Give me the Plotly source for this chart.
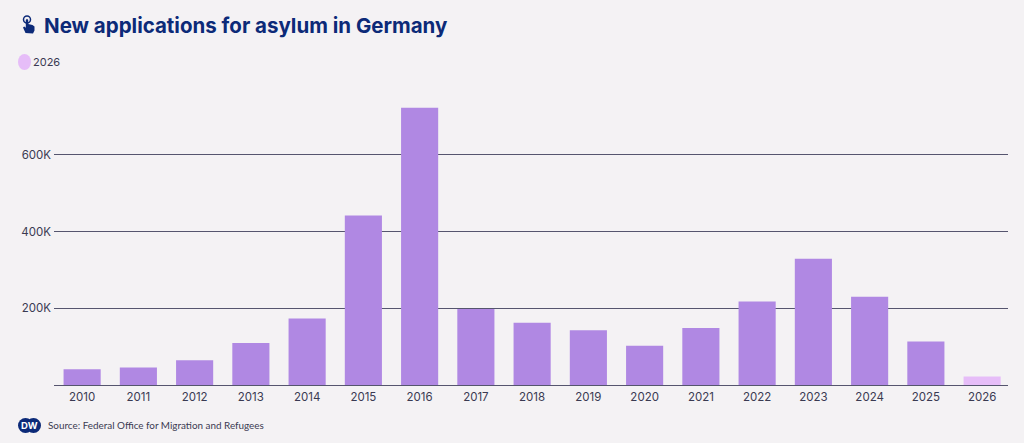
import plotly.graph_objects as go

years = ["2010", "2011", "2012", "2013", "2014", "2015", "2016", "2017", "2018",
         "2019", "2020", "2021", "2022", "2023", "2024", "2025", "2026"]
applications = [41332, 45741, 64539, 109580, 173072, 441899, 722370, 198317, 161931,
                142509, 102581, 148233, 217774, 329120, 229751, 113236, 22000]
current_year = "2026"
y_ticks = [200000, 400000, 600000]
y_tick_labels = ["200K", "400K", "600K"]

TITLE = "New applications for asylum in Germany"
SOURCE = "Source: Federal Office for Migration and Refugees"
BACKGROUND = "#f4f2f4"
NAVY = "#0c2a78"
INK = "#3a3a52"
RULE = "#55556e"
BAR = "#b088e3"
BAR_CURRENT = "#e6bdf8"
W, H = 1024, 443
LEFT, RIGHT, TOP, BOTTOM = 54, 1008, 78, 385

bar_colors = [BAR_CURRENT if y == current_year else BAR for y in years]

fig = go.Figure(go.Bar(x=years, y=applications, marker_color=bar_colors,
                       marker_line_width=0, hoverinfo="x+y"))


# Page pixels to paper fractions, which plotly measures from the plot area
def px(x):
    return (x - LEFT) / (RIGHT - LEFT)


def py(y):
    return (BOTTOM - y) / (BOTTOM - TOP)


def ellipse(x0, y0, x1, y1, color):
    return dict(type="circle", xref="paper", yref="paper", x0=px(x0), x1=px(x1),
                y0=py(y1), y1=py(y0), fillcolor=color, line_width=0, layer="above")


def text(x, y, s, size, color, family="Lato", bold=False):
    return dict(xref="paper", yref="paper", x=px(x), y=py(y), text=f"<b>{s}</b>" if bold else s,
                showarrow=False, xanchor="left", yanchor="middle",
                font=dict(family=family, size=size, color=color), align="left")


# Pointing-hand icon beside the title: raised finger and palm
hand_outline = [(25.5, 33), (23, 27.5), (24.2, 26.5), (25.8, 27.8), (25.8, 20), (27, 18.8),
                (28.2, 20), (28.2, 24), (32.5, 25), (34.5, 26.5), (34.5, 30.5), (33, 33.5)]
hand_path = "M " + " L ".join(f"{px(x):.5f} {py(y):.5f}" for x, y in hand_outline) + " Z"

fig.update_layout(
    width=W, height=H, autosize=False,
    paper_bgcolor=BACKGROUND, plot_bgcolor=BACKGROUND,
    margin=dict(l=LEFT, r=W - RIGHT, t=TOP, b=H - BOTTOM),
    bargap=0.34, showlegend=False,
    xaxis=dict(type="category", range=[-0.5, 16.46], tickmode="array", tickvals=years, ticktext=years,
               showgrid=False, zeroline=False, showline=True, linecolor=RULE, linewidth=1, ticks="",
               ticklabelstandoff=1,
               tickfont=dict(family="Inter", size=11.5, color=INK)),
    yaxis=dict(range=[0, 800000], tickmode="array", tickvals=y_ticks, ticktext=y_tick_labels,
               showgrid=True, gridcolor=RULE, gridwidth=1, zeroline=False, showline=False,
               ticks="", layer="below traces", ticklabelstandoff=2,
               tickfont=dict(family="Inter", size=11.5, color=INK)),
    shapes=[
        ellipse(18, 54, 31, 70, BAR_CURRENT),
        dict(type="path", xref="paper", yref="paper", path=hand_path, fillcolor=NAVY, line_width=0),
        dict(type="circle", xref="paper", yref="paper", x0=px(23.5), x1=px(30.5), y0=py(23), y1=py(16),
             fillcolor="rgba(0,0,0,0)", line=dict(color=NAVY, width=1.5)),
        ellipse(18, 418, 33, 433, NAVY),
        ellipse(26, 418, 41, 433, NAVY),
    ],
    annotations=[
        text(41.5, 26, TITLE, 20.5, NAVY, family="Inter", bold=True),
        text(31, 62, current_year, 11, INK, family="Inter"),
        text(46, 425, SOURCE, 9.9, INK),
        dict(xref="paper", yref="paper", x=px(29.5), y=py(425.5), text="<b>DW</b>", showarrow=False,
             xanchor="center", yanchor="middle", font=dict(family="Inter", size=9.5, color="#ffffff")),
    ],
)

fig.write_html("out.html", config={"displayModeBar": False})
